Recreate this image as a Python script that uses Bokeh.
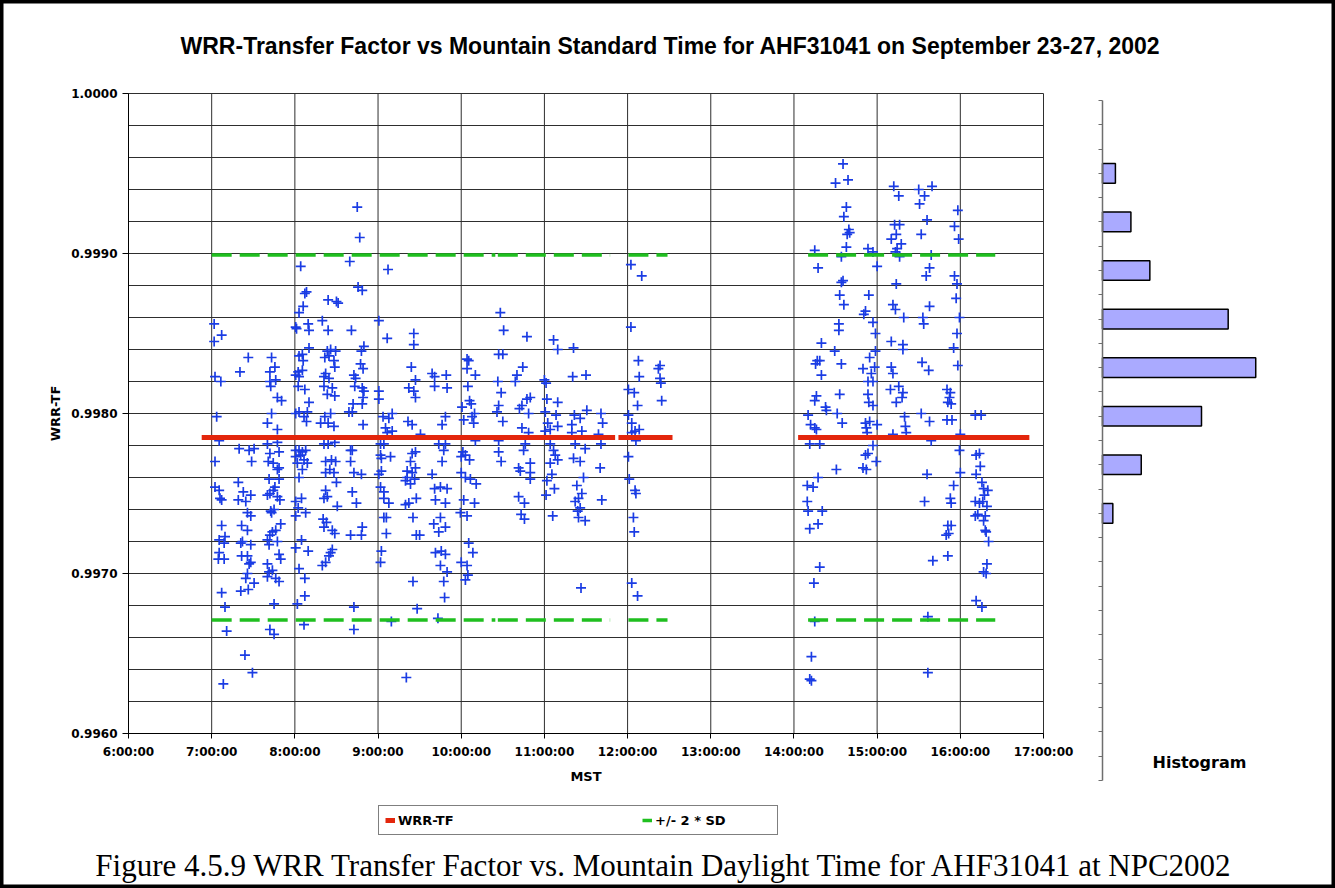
from bokeh.plotting import figure
from bokeh.models import (Range1d, FixedTicker, NumeralTickFormatter, Legend, LegendItem,
                          Label, LinearAxis)
from bokeh.embed import file_html
from bokeh.resources import INLINE

# ---------------- data ----------------
TITLE = "WRR-Transfer Factor vs Mountain Standard Time for AHF31041 on September 23-27, 2002"
CAPTION = "Figure 4.5.9  WRR Transfer Factor vs. Mountain Daylight Time for AHF31041 at NPC2002"
X_LABEL = "MST"
Y_LABEL = "WRR-TF"
HIST_LABEL = "Histogram"
series_names = ["WRR-TF", "+/- 2 * SD"]

hour_ticks = [6, 7, 8, 9, 10, 11, 12, 13, 14, 15, 16, 17]
hour_labels = ["6:00:00", "7:00:00", "8:00:00", "9:00:00", "10:00:00", "11:00:00",
               "12:00:00", "13:00:00", "14:00:00", "15:00:00", "16:00:00", "17:00:00"]
tf_ticks = [0.9960, 0.9970, 0.9980, 0.9990, 1.0000]
tf_grid_step = 0.0002

# (MST in decimal hours, WRR transfer factor)
readings_0700_0930 = [
    (8.07,.99892),(8.66,.99895),(9.12,.99890),(8.14,.99876),(8.12,.99875),(8.40,.99871),(8.50,.99870),(8.52,.99869),(8.76,.99879),(8.81,.99877),
    (8.10,.99867),(8.05,.99863),(7.03,.99856),(7.12,.99849),(7.03,.99845),(8.01,.99854),(8.02,.99853),(8.16,.99856),(8.17,.99852),(8.33,.99858),
    (8.40,.99852),(8.68,.99852),(9.01,.99858),(9.11,.99847),(9.43,.99850),(9.43,.99843),(7.44,.99835),(7.72,.99835),(8.17,.99841),(8.09,.99837),
    (8.05,.99836),(8.10,.99833),(8.39,.99839),(8.43,.99840),(8.49,.99839),(8.41,.99836),(8.36,.99835),(8.47,.99833),(8.83,.99842),(8.80,.99839),
    (8.79,.99831),(8.82,.99828),(8.48,.99829),(7.34,.99826),(7.76,.99829),(7.70,.99826),(8.04,.99826),(8.09,.99827),(8.01,.99824),(8.05,.99823),
    (8.37,.99825),(8.35,.99823),(8.41,.99822),(8.71,.99824),(8.73,.99822),(9.40,.99829),(7.04,.99823),(7.11,.99820),(7.70,.99820),(7.77,.99821),
    (7.71,.99817),(8.04,.99817),(8.12,.99815),(8.35,.99817),(8.45,.99816),(8.72,.99817),(8.81,.99816),(8.83,.99814),(9.01,.99814),(9.37,.99816),
    (9.45,.99821),(9.43,.99814),(7.79,.99810),(7.84,.99808),(8.39,.99812),(8.48,.99811),(8.17,.99807),(8.82,.99810),(9.01,.99809),(8.81,.99806),
    (8.70,.99806),(9.45,.99810),(7.06,.99798),(7.72,.99800),(7.67,.99794),(7.79,.99790),(8.01,.99800),(8.05,.99801),(8.15,.99801),(8.11,.99798),
    (8.14,.99795),(8.36,.99798),(8.43,.99800),(8.31,.99794),(8.40,.99794),(8.47,.99792),(8.69,.99801),(8.65,.99801),(8.82,.99793),(9.06,.99798),
    (9.17,.99800),(9.13,.99797),(9.36,.99795),(9.41,.99793),(9.09,.99791),(9.11,.99788),(9.17,.99789),(7.09,.99783),(7.33,.99778),(7.45,.99777),
    (7.51,.99778),(7.67,.99781),(7.79,.99782),(8.01,.99777),(8.05,.99777),(8.09,.99776),(8.13,.99777),(8.35,.99781),(8.40,.99781),(8.48,.99782),
    (8.67,.99777),(8.69,.99777),(9.03,.99781),(9.07,.99781),(9.41,.99775),(9.45,.99776),(7.04,.99770),(7.48,.99770),(7.70,.99775),(7.81,.99776),
    (7.68,.99770),(7.74,.99769),(7.81,.99766),(7.79,.99765),(8.01,.99773),(8.07,.99774),(8.11,.99771),(8.15,.99769),(8.03,.99769),(8.09,.99765),
    (8.37,.99770),(8.44,.99771),(8.49,.99770),(8.42,.99765),(8.67,.99770),(9.03,.99774),(9.15,.99773),(9.04,.99772),(9.04,.99764),(9.01,.99762),
    (9.39,.99770),(9.35,.99764),(9.41,.99763),(9.45,.99766),(7.32,.99757),(7.69,.99759),(7.81,.99759),(7.76,.99754),(8.05,.99760),(8.37,.99763),
    (8.47,.99763),(8.50,.99757),(8.71,.99763),(8.80,.99762),(9.03,.99754),(9.07,.99751),(9.33,.99758),(9.35,.99760),(9.39,.99756),(9.44,.99759),
    (7.04,.99754),(7.09,.99752),(7.10,.99747),(7.12,.99746),(7.38,.99751),(7.32,.99746),(7.47,.99749),(7.41,.99745),(7.67,.99749),(7.70,.99750),
    (7.74,.99752),(7.79,.99748),(7.82,.99746),(8.01,.99745),(8.08,.99747),(8.04,.99741),(8.37,.99752),(8.39,.99748),(8.35,.99747),(8.69,.99751),
    (8.74,.99744),(8.51,.99742),(9.07,.99747),(9.13,.99744),(9.33,.99743),(9.37,.99744),(9.46,.99747),(7.43,.99738),(7.47,.99736),(7.71,.99739),
    (7.75,.99740),(7.72,.99738),(8.01,.99736),(8.13,.99738),(8.34,.99734),(8.38,.99732),(8.35,.99729),(9.10,.99735),(9.07,.99735),(9.42,.99735),
    (7.12,.99730),(7.36,.99730),(7.43,.99727),(7.70,.99724),(7.73,.99726),(7.77,.99727),(7.83,.99731),(8.48,.99725),(8.45,.99727),(8.67,.99724),
    (8.81,.99729),(8.80,.99724),(9.10,.99725),(9.46,.99724),(7.09,.99721),(7.16,.99723),(7.15,.99719),(7.37,.99720),(7.35,.99719),(7.47,.99718),
    (7.67,.99721),(7.69,.99718),(7.79,.99720),(8.08,.99721),(8.01,.99716),(7.09,.99713),(7.08,.99709),(7.15,.99709),(7.36,.99711),(7.43,.99711),
    (7.47,.99707),(7.45,.99706),(7.67,.99706),(7.81,.99712),(7.83,.99709),(8.16,.99714),(8.43,.99713),(8.45,.99715),(8.41,.99711),(8.33,.99705),
    (8.37,.99707),(9.04,.99714),(9.03,.99707),(7.43,.99700),(7.41,.99697),(7.69,.99701),(7.73,.99702),(7.67,.99698),(7.77,.99697),(7.81,.99695),
    (8.05,.99703),(8.12,.99697),(9.42,.99695),(7.35,.99689),(7.44,.99690),(7.51,.99694),(7.12,.99688),(7.16,.99679),(7.75,.99681),(8.03,.99681),
    (8.12,.99686),(8.71,.99679),(9.47,.99678),(7.18,.99664),(7.70,.99665),(7.75,.99662),(8.11,.99668),(8.71,.99665),(9.16,.99670),(7.40,.99649),
    (7.49,.99638),(7.14,.99631),(9.34,.99635),(8.75,.99929),(8.78,.99910),
]

readings_0930_1230 = [
    (12.04,.99893),(12.17,.99886),(10.47,.99863),(10.51,.99852),(10.79,.99848),(11.11,.99846),(11.16,.99840),(11.35,.99841),(12.04,.99854),(10.45,.99837),
    (10.50,.99837),(10.07,.99834),(10.09,.99833),(10.07,.99828),(10.17,.99824),(10.08,.99817),(9.65,.99825),(9.68,.99823),(9.82,.99824),(9.68,.99817),
    (9.83,.99816),(12.13,.99833),(12.14,.99823),(12.39,.99830),(12.37,.99828),(12.39,.99822),(12.40,.99819),(12.41,.99808),(10.74,.99829),(10.67,.99824),
    (10.65,.99820),(10.44,.99820),(10.48,.99813),(11.00,.99821),(11.02,.99819),(11.34,.99823),(11.50,.99824),(12.01,.99815),(12.08,.99813),(12.12,.99805),
    (10.10,.99808),(10.12,.99806),(10.01,.99804),(10.16,.99800),(10.13,.99798),(10.03,.99796),(10.15,.99794),(9.81,.99798),(9.77,.99793),(10.45,.99805),
    (10.43,.99801),(10.50,.99795),(10.73,.99805),(10.79,.99809),(10.83,.99810),(10.81,.99800),(10.70,.99803),(10.73,.99791),(10.81,.99788),(11.03,.99809),
    (11.16,.99807),(11.01,.99801),(11.14,.99799),(11.04,.99794),(11.07,.99790),(11.16,.99792),(11.01,.99789),(11.36,.99799),(11.43,.99797),(11.51,.99802),
    (11.33,.99793),(11.45,.99789),(11.33,.99788),(11.68,.99800),(11.70,.99794),(11.65,.99787),(12.01,.99799),(12.05,.99794),(12.14,.99790),(12.05,.99788),
    (9.73,.99781),(9.81,.99781),(9.79,.99777),(9.51,.99787),(9.77,.99770),(10.02,.99776),(10.05,.99774),(10.10,.99771),(10.00,.99773),(10.17,.99783),
    (10.45,.99776),(10.48,.99770),(10.45,.99783),(10.77,.99781),(10.75,.99777),(10.83,.99769),(10.69,.99766),(10.71,.99764),(10.83,.99763),(10.83,.99759),
    (11.07,.99781),(11.11,.99777),(11.13,.99774),(11.16,.99771),(11.07,.99769),(11.09,.99762),(11.03,.99758),(11.12,.99753),(11.02,.99749),(11.37,.99781),
    (11.49,.99778),(11.35,.99772),(11.43,.99770),(11.68,.99781),(11.67,.99766),(11.47,.99760),(11.39,.99755),(11.45,.99750),(11.41,.99747),(11.37,.99745),
    (11.43,.99741),(11.40,.99739),(11.41,.99735),(11.49,.99733),(11.69,.99746),(11.10,.99736),(10.69,.99748),(10.76,.99744),(10.72,.99737),(10.76,.99734),
    (12.01,.99773),(12.02,.99759),(12.09,.99752),(12.10,.99750),(12.07,.99735),(12.08,.99726),(12.05,.99694),(12.12,.99686),(12.09,.99789),(12.10,.99783),
    (9.65,.99762),(9.68,.99753),(9.75,.99754),(9.83,.99753),(9.69,.99746),(9.81,.99744),(10.00,.99763),(10.05,.99760),(10.11,.99759),(10.18,.99756),
    (10.03,.99746),(10.16,.99744),(9.99,.99738),(10.07,.99736),(9.75,.99735),(9.67,.99731),(9.81,.99729),(9.73,.99726),(9.50,.99724),(10.09,.99719),
    (10.14,.99713),(9.69,.99713),(9.76,.99714),(9.81,.99712),(10.00,.99707),(10.07,.99705),(9.75,.99705),(9.83,.99701),(10.08,.99699),(10.05,.99696),
    (9.79,.99695),(9.80,.99685),(11.44,.99691),(9.72,.99672),
]

readings_1400_1630 = [
    (14.59,.99956),(14.50,.99944),(14.65,.99946),(15.20,.99942),(15.26,.99936),(15.50,.99940),(15.66,.99942),(15.57,.99936),(15.51,.99931),(15.97,.99927),
    (14.63,.99929),(14.60,.99923),(15.60,.99921),(15.21,.99918),(15.27,.99918),(15.93,.99917),(14.66,.99915),(14.67,.99913),(14.64,.99912),(15.23,.99912),
    (15.17,.99909),(15.53,.99912),(15.98,.99909),(14.25,.99902),(14.63,.99904),(14.89,.99903),(14.95,.99901),(15.29,.99906),(15.24,.99903),(15.22,.99901),
    (14.57,.99898),(15.27,.99898),(15.65,.99899),(14.29,.99891),(15.00,.99892),(15.63,.99891),(15.59,.99886),(15.93,.99886),(15.96,.99881),(14.59,.99883),
    (14.57,.99882),(15.23,.99881),(14.55,.99874),(14.90,.99874),(14.60,.99868),(15.19,.99868),(15.22,.99865),(15.63,.99867),(15.95,.99872),(14.86,.99864),
    (14.84,.99862),(15.32,.99860),(15.55,.99860),(15.56,.99856),(15.99,.99860),(14.54,.99856),(14.54,.99852),(14.95,.99857),(14.98,.99850),(15.96,.99850),
    (14.33,.99844),(15.17,.99845),(15.31,.99843),(15.31,.99840),(15.92,.99841),(14.49,.99839),(14.98,.99839),(14.91,.99835),(14.28,.99833),(14.31,.99833),
    (14.26,.99831),(14.57,.99831),(14.33,.99824),(14.83,.99828),(14.97,.99829),(14.93,.99825),(15.17,.99829),(15.19,.99825),(15.54,.99832),(15.62,.99827),
    (15.97,.99830),(14.89,.99820),(14.95,.99820),(15.16,.99815),(15.26,.99817),(15.31,.99813),(15.30,.99810),(15.23,.99807),(14.27,.99811),(14.25,.99808),
    (14.55,.99812),(14.38,.99804),(14.39,.99802),(14.52,.99800),(14.89,.99812),(14.90,.99807),(14.95,.99805),(15.84,.99815),(15.88,.99813),(15.87,.99810),
    (15.85,.99807),(15.89,.99806),(14.17,.99799),(14.20,.99793),(14.25,.99791),(14.27,.99790),(14.58,.99794),(14.86,.99794),(14.91,.99795),(15.00,.99793),
    (14.87,.99791),(14.88,.99788),(15.33,.99798),(15.34,.99792),(15.35,.99788),(15.19,.99787),(15.53,.99800),(15.63,.99795),(15.84,.99796),(15.90,.99796),
    (16.00,.99787),(16.18,.99799),(16.25,.99799),(14.19,.99781),(14.31,.99781),(14.95,.99780),(14.89,.99775),(14.86,.99774),(14.99,.99770),(14.83,.99766),
    (14.87,.99765),(15.65,.99783),(15.99,.99777),(16.19,.99774),(16.23,.99775),(16.24,.99767),(14.51,.99765),(14.29,.99760),(14.16,.99755),(14.23,.99754),
    (14.16,.99745),(14.17,.99739),(14.34,.99739),(14.19,.99728),(14.29,.99731),(15.60,.99762),(15.57,.99745),(16.00,.99763),(15.92,.99755),(15.88,.99747),
    (15.89,.99744),(15.85,.99730),(15.89,.99730),(15.83,.99724),(15.86,.99725),(16.19,.99762),(16.26,.99757),(16.28,.99753),(16.33,.99752),(16.29,.99749),
    (16.18,.99745),(16.23,.99744),(16.27,.99745),(16.32,.99742),(16.21,.99737),(16.18,.99736),(16.30,.99736),(16.28,.99733),(16.30,.99727),(16.31,.99726),
    (16.34,.99720),(15.67,.99708),(15.85,.99711),(16.32,.99706),(16.28,.99701),(16.31,.99700),(14.31,.99704),(14.24,.99694),(16.19,.99683),(16.26,.99679),
    (14.25,.99670),(15.61,.99673),(14.21,.99648),(14.19,.99634),(14.21,.99633),(15.61,.99638),
]

# mean WRR-TF and standard deviation; lines drawn over each observing span
wrr_mean = 0.99785
wrr_sd = 0.000570
mean_span_start = [6.88, 11.89, 14.05]
mean_span_end = [11.85, 12.54, 16.83]
sd_span_start = [7.00, 10.44, 12.01, 14.17]
sd_span_end = [10.41, 11.79, 12.48, 16.42]

# histogram of the readings (bin index counted from the top, counts)
hist_bin_index = [1, 2, 3, 4, 5, 6, 7, 8]
hist_counts = [15, 33, 55, 146, 178, 115, 45, 12]
hist_bin_total = 14
hist_count_span = 230

# ---------------- page layout (pixels in the page) ----------------
PAGE_X0, PAGE_Y0 = 0, 0
W, H = 1335, 888
PAGE_X1, PAGE_Y1 = PAGE_X0 + W, PAGE_Y0 + H
PLOT_L, PLOT_R, PLOT_T, PLOT_B = 128, 1043, 93, 733        # scatter plot area
HIST_L, HIST_R, HIST_T, HIST_B = 1102, 1300, 100, 780      # histogram area

px_per_hour = (PLOT_R - PLOT_L) / (hour_ticks[-1] - hour_ticks[0])
px_per_tf = (PLOT_B - PLOT_T) / (tf_ticks[-1] - tf_ticks[0])
x_start = hour_ticks[0] - (PLOT_L - PAGE_X0) / px_per_hour
x_end = hour_ticks[-1] + (PAGE_X1 - PLOT_R) / px_per_hour
y_start = tf_ticks[0] - (PAGE_Y1 - PLOT_B) / px_per_tf
y_end = tf_ticks[-1] + (PLOT_T - PAGE_Y0) / px_per_tf

px_per_count = (HIST_R - HIST_L) / hist_count_span
px_per_bin = (HIST_B - HIST_T) / hist_bin_total
cnt_start = -(HIST_L - PAGE_X0) / px_per_count
cnt_end = (PAGE_X1 - HIST_L) / px_per_count
bin_bottom = (PAGE_Y1 - HIST_T) / px_per_bin
bin_top = -(HIST_T - PAGE_Y0) / px_per_bin

def sx(page_x):
    return page_x - PAGE_X0

def sy(page_y):
    return PAGE_Y1 - page_y

# ---------------- styling ----------------
BOLD_SANS = "DejaVu Sans"
ARIAL = "Liberation Sans"
SERIF = "Liberation Serif"
BLUE = "#1a3ce4"
RED = "#e3260c"
GREEN = "#1fbf1f"
GRID = "#2e2e2e"

all_readings = readings_0700_0930 + readings_0930_1230 + readings_1400_1630
hours = [r[0] for r in all_readings]
tfs = [r[1] for r in all_readings]

p = figure(width=W, height=H, x_range=Range1d(x_start, x_end), y_range=Range1d(y_start, y_end),
           title=None, toolbar_location=None, output_backend="svg", min_border=0)
p.extra_x_ranges = {"cnt": Range1d(cnt_start, cnt_end)}
p.extra_y_ranges = {"bin": Range1d(bin_bottom, bin_top)}
p.background_fill_color = "white"
p.border_fill_color = "white"
p.outline_line_color = "black"
p.outline_line_width = 6
p.grid.visible = False

# grid lines of the scatter area
n_grid = int(round((tf_ticks[-1] - tf_ticks[0]) / tf_grid_step))
grid_levels = [round(tf_ticks[0] + i * tf_grid_step, 4) for i in range(n_grid + 1)]
p.segment(x0=[hour_ticks[0]] * len(grid_levels), x1=[hour_ticks[-1]] * len(grid_levels),
          y0=grid_levels, y1=grid_levels, line_color=GRID, line_width=1)
p.segment(x0=hour_ticks, x1=hour_ticks, y0=[tf_ticks[0]] * len(hour_ticks),
          y1=[tf_ticks[-1]] * len(hour_ticks), line_color=GRID, line_width=1)

p.scatter(hours, tfs, marker="cross", size=10, line_color=BLUE, line_width=1.7)

upper = wrr_mean + 2 * wrr_sd
lower = wrr_mean - 2 * wrr_sd
n_sd = len(sd_span_start)
r_sd = p.segment(x0=sd_span_start + sd_span_start, x1=sd_span_end + sd_span_end,
                 y0=[upper] * n_sd + [lower] * n_sd, y1=[upper] * n_sd + [lower] * n_sd,
                 line_color=GREEN, line_width=3.5, line_dash="20 8")
n_m = len(mean_span_start)
r_mean = p.segment(x0=mean_span_start, x1=mean_span_end, y0=[wrr_mean] * n_m, y1=[wrr_mean] * n_m,
                   line_color=RED, line_width=5)

# axes of the scatter plot, pinned to the plot area
xa = p.xaxis[0]
xa.fixed_location = tf_ticks[0]
xa.bounds = (hour_ticks[0], hour_ticks[-1])
xa.ticker = FixedTicker(ticks=hour_ticks)
xa.major_label_overrides = dict(zip(hour_ticks, hour_labels))
xa.major_tick_out = 5
xa.major_label_standoff = 6
xa.axis_label = X_LABEL
xa.axis_label_standoff = 7

ya = p.yaxis[0]
ya.fixed_location = hour_ticks[0]
ya.bounds = (tf_ticks[0], tf_ticks[-1])
ya.ticker = FixedTicker(ticks=tf_ticks)
ya.formatter = NumeralTickFormatter(format="0.0000")
ya.major_tick_out = 6
ya.major_label_standoff = 5
ya.axis_label = Y_LABEL
ya.axis_label_standoff = 5

for ax in (xa, ya):
    ax.axis_line_color = "black"
    ax.major_tick_line_color = "black"
    ax.major_tick_in = 0
    ax.minor_tick_in = 0
    ax.minor_tick_out = 0
    ax.major_label_text_font = BOLD_SANS
    ax.major_label_text_font_style = "bold"
    ax.major_label_text_font_size = "12px"
    ax.major_label_text_color = "black"
    ax.axis_label_text_font = BOLD_SANS
    ax.axis_label_text_font_style = "bold"
    ax.axis_label_text_font_size = "13px"
    ax.axis_label_text_color = "black"

# ---------------- histogram ----------------
p.hbar(y=[b + 0.5 for b in hist_bin_index], left=0, right=hist_counts, height=0.405,
       fill_color="#aaaaff", line_color="black", line_width=1.5,
       x_range_name="cnt", y_range_name="bin")
half_ticks = [i * 0.5 for i in range(2 * hist_bin_total + 1)]
ha = LinearAxis(x_range_name="cnt", y_range_name="bin", fixed_location=0,
                bounds=(0, hist_bin_total), ticker=FixedTicker(ticks=half_ticks),
                major_label_overrides={t: "" for t in half_ticks},
                axis_line_color="#6e6e6e", axis_line_width=1.5,
                major_tick_line_color="#6e6e6e", major_tick_out=4, major_tick_in=0,
                minor_tick_out=0, minor_tick_in=0, major_label_standoff=0)
p.add_layout(ha, "left")

# ---------------- texts ----------------
p.add_layout(Label(x=sx(670), y=sy(45.5), x_units="screen", y_units="screen", text=TITLE,
                   text_align="center", text_baseline="middle", text_font=ARIAL,
                   text_font_size="23px", text_font_style="bold", text_color="black"))
p.add_layout(Label(x=sx(1199), y=sy(762), x_units="screen", y_units="screen", text=HIST_LABEL,
                   text_align="center", text_baseline="middle", text_font=BOLD_SANS,
                   text_font_size="16px", text_font_style="bold", text_color="black"))
p.add_layout(Label(x=sx(668), y=sy(865), x_units="screen", y_units="screen", text=CAPTION,
                   text_align="center", text_baseline="middle", text_font=SERIF,
                   text_font_size="31px", text_color="black"))

# ---------------- legend ----------------
legend = Legend(items=[LegendItem(label=series_names[0], renderers=[r_mean]),
                       LegendItem(label=series_names[1], renderers=[r_sd])],
                orientation="horizontal", location=(sx(378), sy(835)), margin=0,
                border_line_color="black", border_line_width=1, background_fill_color="white",
                padding=6, spacing=128, label_width=116, label_height=16,
                glyph_width=10, glyph_height=12, label_standoff=3,
                label_text_font=BOLD_SANS, label_text_font_style="bold",
                label_text_font_size="13px", label_text_color="black")
p.add_layout(legend)

open("out.html", "w").write(file_html(p, INLINE, title="WRR-TF vs MST"))
